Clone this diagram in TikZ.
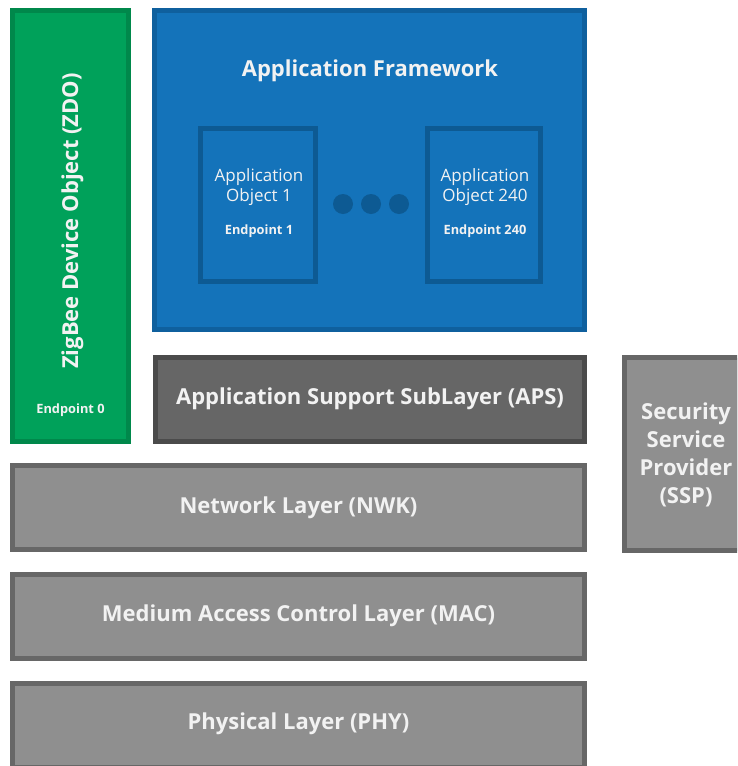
\documentclass[tikz,border=0pt]{standalone}
\usepackage{fontspec}
\setmainfont{Open Sans}
\definecolor{zgreen}{HTML}{00A15A}
\definecolor{zgreenb}{HTML}{00884B}
\definecolor{afblue}{HTML}{1473BA}
\definecolor{afblueb}{HTML}{0F609E}
\definecolor{objb}{HTML}{0D5A93}
\definecolor{apsfill}{HTML}{666666}
\definecolor{apsb}{HTML}{4B4B4B}
\definecolor{lgray}{HTML}{8F8F8F}
\definecolor{lgrayb}{HTML}{676767}
\definecolor{txt}{HTML}{F2F2F2}
\begin{document}
\begin{tikzpicture}[x=1pt,y=-1pt,
  box/.style={rectangle,line width=5pt,inner sep=0pt},
  zdobox/.style={box,fill=zgreen,draw=zgreenb},
  afbox/.style={box,fill=afblue,draw=afblueb},
  objbox/.style={box,fill=afblue,draw=objb},
  apsbox/.style={box,fill=apsfill,draw=apsb},
  graybox/.style={box,fill=lgray,draw=lgrayb},
  lbl/.style={text=txt,inner sep=0pt,align=center},
  biglbl/.style={lbl,font=\bfseries\fontsize{22}{28}\selectfont},
  objlbl/.style={lbl,font=\fontsize{17}{20}\selectfont},
  eplbl/.style={lbl,font=\bfseries\fontsize{12.8}{15}\selectfont},
  dot/.style={circle,fill=objb,inner sep=0pt,minimum size=20pt}]
\useasboundingbox (0,0) rectangle (737,766);
\fill[white] (0,0) rectangle (737,766);
\clip (0,0) rectangle (737,766);
% ZDO
\node[zdobox,minimum width=116pt,minimum height=431pt] (zdo) at (70.5,226) {};
\node[biglbl,rotate=90] (zdot) at (72.5,221) {ZigBee Device Object (ZDO)};
\node[eplbl] (ep0) at (70.5,410) {Endpoint 0};
% Application framework
\node[afbox,minimum width=430pt,minimum height=319pt] (af) at (369.5,170) {};
\node[biglbl] (aft) at (370,71) {Application Framework};
\node[objbox,minimum width=115pt,minimum height=153pt] (o1) at (258,205) {};
\node[objlbl] (o1t) at (259,187) {Application\\Object 1};
\node[eplbl] (o1e) at (259,231) {Endpoint 1};
\node[objbox,minimum width=113pt,minimum height=153pt] (o2) at (484,205) {};
\node[objlbl] (o2t) at (485,187) {Application\\Object 240};
\node[eplbl] (o2e) at (485,231) {Endpoint 240};
\node[dot] (d1) at (343,204) {};
\node[dot] (d2) at (371,204) {};
\node[dot] (d3) at (399,204) {};
% APS
\node[apsbox,minimum width=429pt,minimum height=84pt] (aps) at (370,399.5) {};
\node[biglbl] (apst) at (370,399) {Application Support SubLayer (APS)};
% SSP
\node[graybox,minimum width=115pt,minimum height=193pt] (ssp) at (681.5,454) {};
\node[biglbl] (sspt) at (686,455) {Security\\Service\\Provider\\(SSP)};
% Layers
\node[graybox,minimum width=572pt,minimum height=84pt] (nwk) at (298.5,507.5) {};
\node[biglbl] (nwkt) at (298.5,508) {Network Layer (NWK)};
\node[graybox,minimum width=572pt,minimum height=84pt] (mac) at (298.5,616.5) {};
\node[biglbl] (mact) at (298.5,616) {Medium Access Control Layer (MAC)};
\node[graybox,minimum width=572pt,minimum height=84pt] (phy) at (298.5,725.5) {};
\node[biglbl] (phyt) at (298.5,724) {Physical Layer (PHY)};
\end{tikzpicture}
\end{document}
